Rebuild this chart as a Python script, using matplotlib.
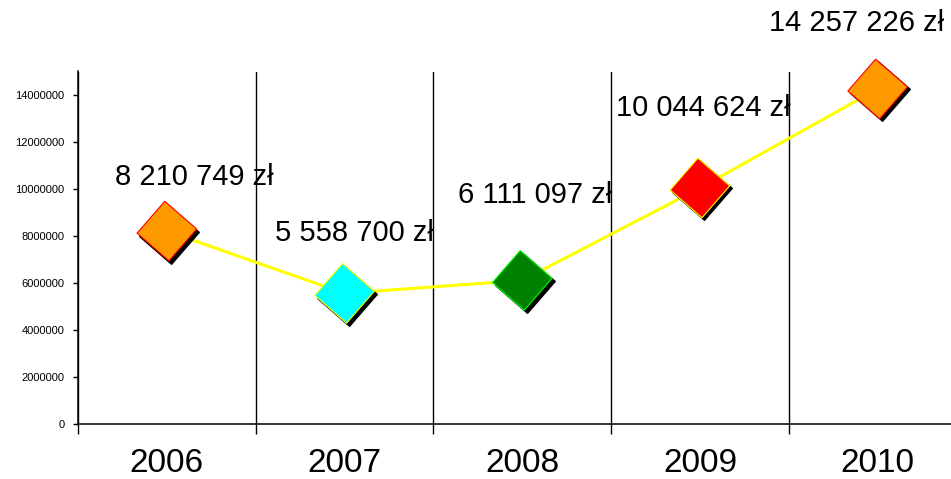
import matplotlib.pyplot as plt
from matplotlib.transforms import offset_copy
from matplotlib.ticker import FixedLocator, FuncFormatter, NullFormatter

plt.rcParams['font.family'] = ['Liberation Sans', 'DejaVu Sans']

years = ['2006', '2007', '2008', '2009', '2010']
amounts = [8210749, 5558700, 6111097, 10044624, 14257226]
fill_colors = ['#ff9900', '#00ffff', '#008000', '#ff0000', '#ff9900']
edge_colors = ['#ff0000', '#ffff00', '#00ff00', '#ffff00', '#ff0000']
y_ticks = [0, 2000000, 4000000, 6000000, 8000000, 10000000, 12000000, 14000000]

# where each value label sits relative to its marker, in pixels
label_offsets = [(27, 54), (10, 60), (13, 85), (3, 80), (-21, 66)]


def zloty(value):
    return f'{value:,}'.replace(',', ' ') + ' zł'


fig = plt.figure(figsize=(9.51, 4.79), dpi=100)
ax = fig.add_axes([78 / 951, 55 / 479, 888.5 / 951, 352.5 / 479])

centers = [i + 0.5 for i in range(len(years))]

ax.plot(centers, amounts, color='#ffff00', lw=2.2, zorder=2, clip_on=False)

# slightly tilted diamonds with a drop shadow
diamond = (4, 0, 4)
shadow = offset_copy(ax.transData, fig=fig, x=2.5, y=-2.5, units='dots')
ax.scatter(centers, amounts, s=43 ** 2, marker=diamond, color='black',
           transform=shadow, zorder=3, clip_on=False)
ax.scatter(centers, amounts, s=43 ** 2, marker=diamond, facecolors=fill_colors,
           edgecolors=edge_colors, linewidths=0.8, zorder=4, clip_on=False)

for xc, value, (dx, dy) in zip(centers, amounts, label_offsets):
    ax.annotate(zloty(value), (xc, value), xytext=(dx, dy),
                textcoords='offset pixels', ha='center', va='center',
                fontsize=21, annotation_clip=False, zorder=5)

ax.set_xlim(0, len(years))
ax.set_ylim(0, 15000000)

ax.xaxis.set_major_locator(FixedLocator(range(len(years) + 1)))
ax.xaxis.set_major_formatter(NullFormatter())
ax.xaxis.set_minor_locator(FixedLocator(centers))
ax.set_xticklabels(years, minor=True)
ax.tick_params(axis='x', which='major', direction='out', length=7.5, width=1, color='black')
ax.tick_params(axis='x', which='minor', length=0, pad=17, labelsize=24)
ax.xaxis.grid(True, which='major', color='black', lw=1)

ax.set_yticks(y_ticks)
ax.yaxis.set_major_formatter(FuncFormatter(lambda v, _: f'{int(v)}'))
ax.tick_params(axis='y', direction='out', length=3.6, width=1, labelsize=8, pad=6)

for side in ('top', 'right'):
    ax.spines[side].set_visible(False)
for side in ('left', 'bottom'):
    ax.spines[side].set_linewidth(1.1)

fig.savefig('out.png', dpi=100)
